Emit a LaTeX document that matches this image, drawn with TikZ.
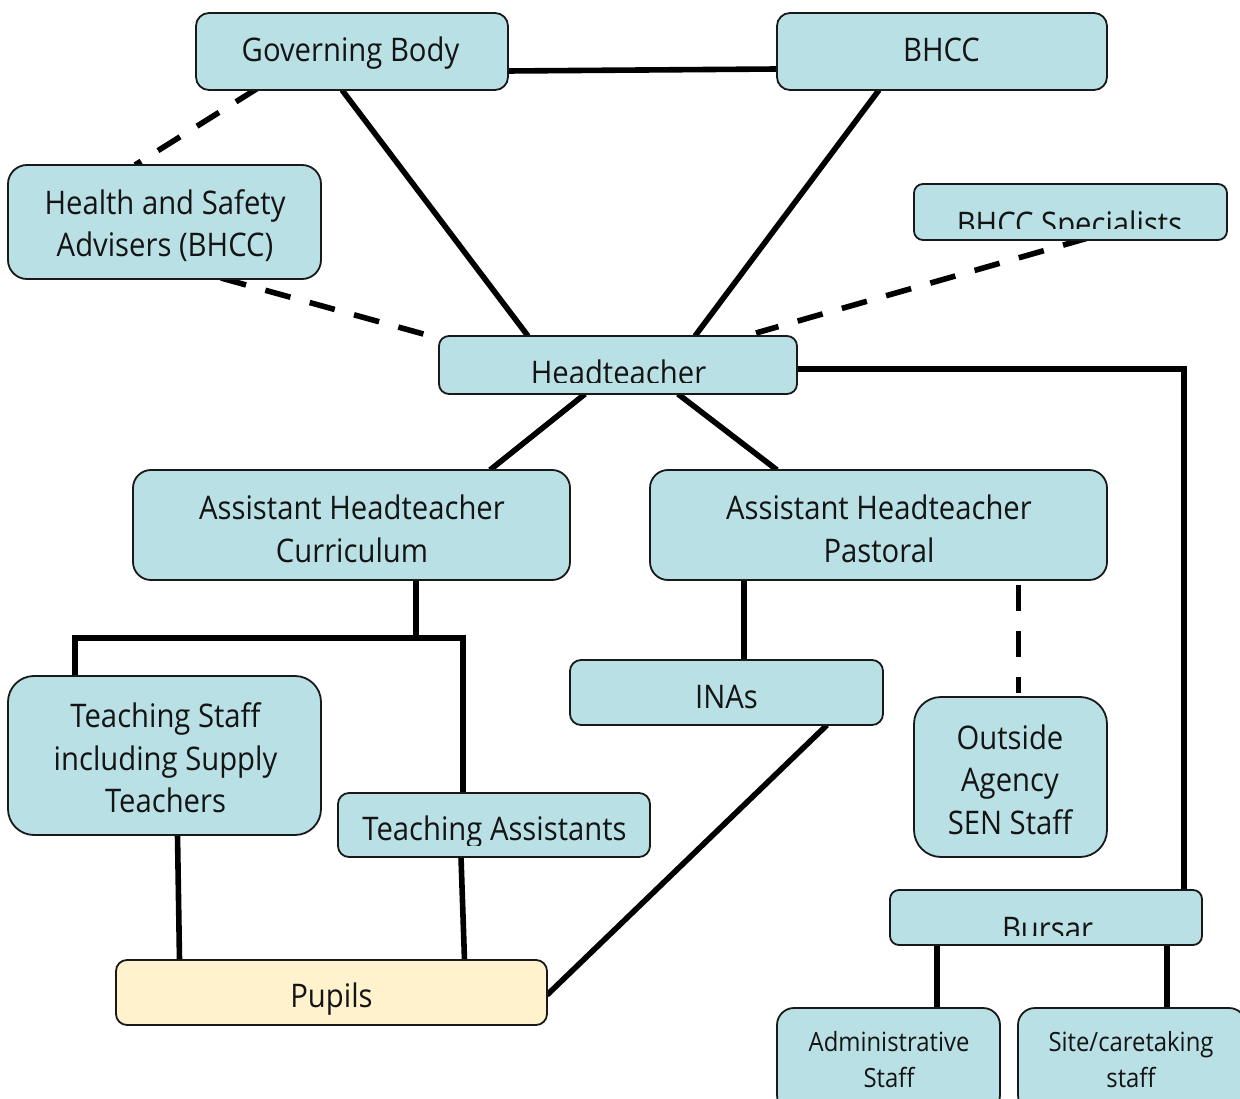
\documentclass[tikz,border=0pt]{standalone}
\usepackage{fontspec}
\setmainfont{Open Sans}[FakeStretch=0.9]
\usetikzlibrary{calc,backgrounds}
\definecolor{boxblue}{RGB}{185,224,228}
\definecolor{pupilyellow}{RGB}{255,242,204}
\definecolor{edgecol}{RGB}{25,25,25}
\definecolor{textdark}{RGB}{20,20,20}
\tikzset{
  orgbox/.style n args={3}{draw=edgecol, line width=1.8pt, fill=boxblue,
    rounded corners=#3, minimum width=#1, minimum height=#2,
    inner sep=0pt, outer sep=0pt},
  lbl/.style={font=\fontsize{32.5}{42.5}\selectfont, align=center,
    inner sep=0pt, text=textdark},
  lblsmall/.style={font=\fontsize{26.5}{35.5}\selectfont, align=center,
    inner sep=0pt, text=textdark},
  solidline/.style={line width=5.6pt, draw=black, line join=miter},
  dashline/.style={line width=5.6pt, draw=black, dash pattern=on 26pt off 20pt},
}
\begin{document}
\begin{tikzpicture}[x=1pt,y=-1pt]
\useasboundingbox (0,0) rectangle (1240,1099);

% boxes
\node[orgbox={312}{77}{13}] (gb) at (352,51.5) {};
\node[orgbox={330}{77}{13}] (bhcc) at (942,51.5) {};
\node[orgbox={313}{114}{19}] (hs) at (164.5,222) {};
\node[orgbox={313}{56}{9}] (spec) at (1070.5,212) {};
\node[orgbox={358}{58}{10}] (ht) at (618,365) {};
\node[orgbox={437}{110}{18}] (ahc) at (351.5,525) {};
\node[orgbox={457}{110}{18}] (ahp) at (878.5,525) {};
\node[orgbox={313}{65}{11}] (inas) at (726.5,692.5) {};
\node[orgbox={193}{160}{27}] (oa) at (1010.5,777) {};
\node[orgbox={313}{159}{26}] (ts) at (164.5,755.5) {};
\node[orgbox={312}{64}{11}] (ta) at (494,825) {};
\node[orgbox={431}{65}{11}, fill=pupilyellow] (pupils) at (331.5,992.5) {};
\node[orgbox={312}{55}{9}] (bursar) at (1046,917.5) {};
\node[orgbox={223}{104}{17}] (admin) at (888.5,1060) {};
\node[orgbox={228}{104}{17}] (site) at (1132,1060) {};

% texts
\node[lbl] (tgb) at (350.5,53) {\strut Governing Body};
\node[lbl] (tbhcc) at (941.5,53) {\strut BHCC};
\node[lbl] (ths) at (165,227) {\strut Health and Safety\\\strut Advisers (BHCC)};
\begin{scope}
  \clip (spec.north west) rectangle ($(spec.south east)+(0,-11)$);
  \node[lbl] (tspec) at (1069.5,227.5) {\strut BHCC Specialists};
\end{scope}
\begin{scope}
  \clip (ht.north west) rectangle ($(ht.south east)+(0,-11.5)$);
  \node[lbl] (tht) at (618.5,376) {\strut Headteacher};
\end{scope}
\node[lbl] (tahc) at (352,532.5) {\strut Assistant Headteacher\\\strut Curriculum};
\node[lbl] (tahp) at (879,532.5) {\strut Assistant Headteacher\\\strut Pastoral};
\node[lbl] (tinas) at (726.5,699.8) {\strut INAs};
\node[lbl] (toa) at (1010,783) {\strut Outside\\\strut Agency\\\strut SEN Staff};
\node[lbl] (tts) at (165.5,761.5) {\strut Teaching Staff\\\strut including Supply\\\strut Teachers};
\begin{scope}
  \clip (ta.north west) rectangle ($(ta.south east)+(0,-12)$);
  \node[lbl] (tta) at (494.5,831.5) {\strut Teaching Assistants};
\end{scope}
\node[lbl] (tpupils) at (331.5,998.5) {\strut Pupils};
\begin{scope}
  \clip (bursar.north west) rectangle ($(bursar.south east)+(0,-10)$);
  \node[lbl] (tbursar) at (1047.5,931.5) {\strut Bursar};
\end{scope}
\node[lblsmall] (tadmin) at (889,1062.4) {\strut Administrative\\\strut Staff};
\node[lblsmall] (tsite) at (1131,1062.4) {\strut Site/caretaking\\\strut staff};

\coordinate (j) at (416,638);

\begin{scope}[on background layer]
  \fill[white] (0,0) rectangle (1240,1099);
  % solid connectors
  \draw[solidline] ($(gb.east)+(0,19.5)$) -- ($(bhcc.west)+(0,17.5)$);
  \draw[solidline] ($(gb.south)+(-10,0)$) -- ($(ht.north)+(-90,0)$);
  \draw[solidline] ($(bhcc.south)+(-63,0)$) -- ($(ht.north)+(77,0)$);
  \draw[solidline] ($(ht.east)+(0,4)$) -| ($(bursar.north)+(138,0)$);
  \draw[solidline] ($(ht.south)+(-33,0)$) -- ($(ahc.north)+(138.5,0)$);
  \draw[solidline] ($(ht.south)+(60,0)$) -- ($(ahp.north)+(-101.5,0)$);
  \draw[solidline] ($(ahc.south)+(64.5,0)$) -- (j);
  \draw[solidline] ($(ts.north)+(-89.5,0)$) |- (j) -| ($(ta.north)+(-31,0)$);
  \draw[solidline] ($(ahp.south)+(-134.5,0)$) -- ($(inas.north)+(17.5,0)$);
  \draw[solidline] ($(inas.south)+(100.5,0)$) -- ($(pupils.east)+(0,2.5)$);
  \draw[solidline] ($(ts.south)+(13,0)$) -- ($(pupils.north)+(-152,0)$);
  \draw[solidline] ($(ta.south)+(-33,0)$) -- ($(pupils.north)+(133,0)$);
  \draw[solidline] ($(bursar.south)+(-109,0)$) -- ($(admin.north)+(48.5,0)$);
  \draw[solidline] ($(bursar.south)+(121,0)$) -- ($(site.north)+(35,0)$);
  % dashed connectors
  \draw[dashline] ($(gb.south)+(-94,-2)$) -- ($(hs.north)+(-29.5,0)$);
  \draw[dashline] ($(hs.south)+(56.5,-1)$) -- ($(ht.north west)+(-12,-1)$);
  \draw[dashline] ($(spec.south)+(17.5,-2)$) -- ($(ht.north)+(138,-3)$);
  \draw[dashline] ($(ahp.south)+(140,5)$) -- ($(oa.north)+(8,-4)$);
\end{scope}
\end{tikzpicture}
\end{document}
